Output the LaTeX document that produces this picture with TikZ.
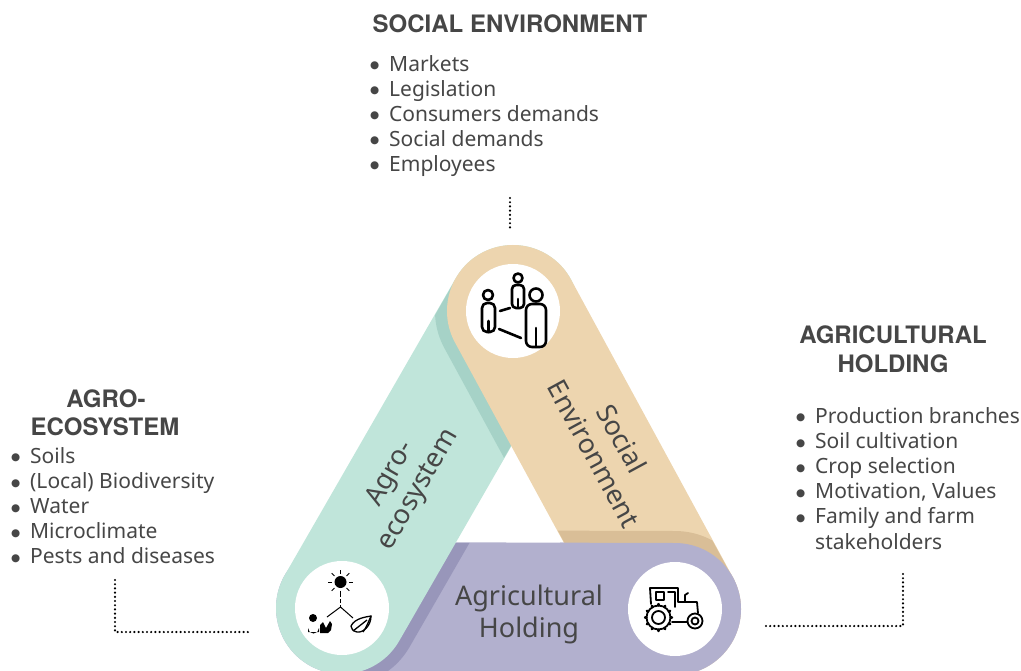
\documentclass[tikz,border=0pt]{standalone}
\usepackage{fontspec}
\setmainfont{Noto Sans}
\newfontfamily\titrefont{TeX Gyre Heros}
\newfontfamily\pucefont{DejaVu Sans}
\usepackage{tikz}
\usetikzlibrary{calc,positioning}
\definecolor{agro}{HTML}{C0E5DA}
\definecolor{agrodark}{HTML}{A6D2C7}
\definecolor{social}{HTML}{EDD5AF}
\definecolor{socialdark}{HTML}{D9BE97}
\definecolor{holding}{HTML}{B2B0CE}
\definecolor{holdingdark}{HTML}{9896BA}
\definecolor{txt}{HTML}{464646}
\newcommand{\puce}{\makebox[19pt][l]{\raisebox{2.2pt}{\pucefont\fontsize{10.5}{10.5}\selectfont ●}}}
\tikzstyle{band}=[line width=132pt, line cap=round]
\tikzstyle{ombre}=[line width=156pt, line cap=round]
\tikzstyle{titre}=[anchor=base, inner sep=0pt, text=txt, font=\titrefont\fontsize{24}{29}\selectfont\bfseries]
\tikzstyle{liste}=[anchor=base west, inner sep=0pt, text=txt, font=\fontsize{21}{25}\selectfont]
\tikzstyle{bandtext}=[align=center, text=txt, font=\fontsize{27}{32}\selectfont]
\tikzstyle{pointille}=[line width=2.4pt, line cap=round, dash pattern=on 0pt off 4.2pt]
\tikzstyle{icone}=[line width=2.6pt, line cap=round, line join=round]
\tikzstyle{rond}=[circle, fill=white, minimum size=94pt, inner sep=0pt]

\begin{document}
\begin{tikzpicture}[x=1pt, y=-1pt]
\useasboundingbox (0,0) rectangle (1021,670);

\coordinate (A) at (513,311);
\coordinate (B) at (342,608);
\coordinate (C) at (675,609);

% holding
\draw[band, holding] (B) -- (C);
\begin{scope}
\clip ($(B)!65.5pt!90:(C)$) -- ($(B)!65.5pt!-90:(C)$) -- ($(C)!65.5pt!90:(B)$) -- ($(C)!65.5pt!-90:(B)$) -- cycle;
\draw[ombre, holdingdark] (B) -- (A);
\end{scope}

% agro-ecosystem
\draw[band, agro] (B) -- (A);
\begin{scope}
\clip ($(B)!65.5pt!90:(A)$) -- ($(B)!65.5pt!-90:(A)$) -- ($(A)!65.5pt!90:(B)$) -- ($(A)!65.5pt!-90:(B)$) -- cycle;
\draw[ombre, agrodark] (A) -- (C);
\end{scope}

% social environment
\draw[band, social] (A) -- (C);
\begin{scope}
\clip ($(A)!65.5pt!90:(C)$) -- ($(A)!65.5pt!-90:(C)$) -- ($(C)!65.5pt!90:(A)$) -- ($(C)!65.5pt!-90:(A)$) -- cycle;
\draw[ombre, socialdark] (B) -- (C);
\end{scope}

% holding over social
\begin{scope}
\clip (560,470) rectangle (1021,680);
\draw[band, holding] (B) -- (C);
\end{scope}

% texte des bandes
\node[bandtext, rotate=60] (agrotext) at (405,482) {Agro-\\ecosystem};
\node[bandtext, rotate=-61.5] (socialtext) at (608,446) {Social\\Environment};
\node[bandtext] (holdingtext) at (529,614) {Agricultural\\Holding};

% icones
\node[rond] (socialicon) at (A) {};
\node[rond] (agroicon) at (B) {};
\node[rond] (holdingicon) at (C) {};

% personnes
\begin{scope}[shift={(A)}, icone]
\draw (-25,-16) circle (5);
\draw[rounded corners=5pt] (-31,-8) rectangle (-18,21);
\draw (-24.5,10) -- (-24.5,21);
\draw (5,-33) circle (4.5);
\draw[rounded corners=4pt] (-1,-26) rectangle (11,-3);
\draw (5,-12) -- (5,-3);
\draw (23,-16) circle (6.5);
\draw[rounded corners=6pt] (13,-7) rectangle (33,36);
\draw (23,17) -- (23,36);
\draw (-13,0) -- (-3,-3);
\draw (-14,18) -- (8,27);
\end{scope}

% soleil, plante
\begin{scope}[shift={(B)}]
\fill (-1.5,-26) circle (6);
\foreach \a in {0,45,...,315}
  \draw[line width=1pt] ($(-1.5,-26)+(\a:8.5)$) -- ($(-1.5,-26)+(\a:12.5)$);
\draw[line width=1pt, dash pattern=on 4pt off 2pt] (-1.5,-15) -- (-1.5,-1);
\draw[line width=1pt] (-15,9) -- (-1.5,-1) -- (11,10);
\fill (-29,10) circle (4);
\fill (-34,24) -- (-34,20) arc (180:0:5.5) -- (-23,24) -- cycle;
\fill (-22,25) -- (-22,17) -- (-19,14) -- (-16,20) -- (-12,13) -- (-10,16) -- (-11,22) -- (-14,25) -- cycle;
\draw[line width=1.3pt] (9,18) .. controls (13,10) and (24,9) .. (29,8) .. controls (29,18) and (21,25) .. (15,24) .. controls (11,23) and (9,21) .. (9,18);
\draw[line width=1.3pt] (11,23) -- (25,12);
\draw[line width=1.3pt] (21,24) .. controls (24,20) and (26,15) .. (29,8);
\end{scope}

% tracteur
\begin{scope}[shift={(C)}, icone, line width=1.8pt]
\draw (-24,-5) -- (-25,-21) -- (3,-21) -- (3,-7) -- (22,-7) -- (23,4);
\draw (-19,-17) rectangle (-11,-9);
\draw (-7,-17) -- (0,-17) -- (0,-2);
\draw (10,-7) -- (10,-14) -- (13,-16);
\draw (-3,13) -- (12,13);
\draw (-16.5,8.5) circle (12);
\foreach \a in {0,30,...,330}
  \draw[line width=2.4pt] ($(-16.5,8.5)+(\a:12)$) -- ($(-16.5,8.5)+(\a:13.5)$);
\draw (-16.5,8.5) circle (6.5);
\draw (20,12) circle (7.5);
\draw (20,12) circle (3.5);
\end{scope}

% social environment
\node[titre] (socialtitle) at (510,32) {SOCIAL ENVIRONMENT};
\foreach \t [count=\i from 0] in {Markets, Legislation, Consumers demands, Social demands, Employees}
  \node[liste] (social-\i) at (370,71+25*\i) {\puce\t};
\coordinate (socialdot1) at (510,198);
\coordinate (socialdot2) at (510,231);
\draw[pointille] (socialdot1) -- (socialdot2);

% agro-ecosystem
\node[titre] (agrotitle1) at (106,407) {AGRO-};
\node[titre] (agrotitle2) at (105,435) {ECOSYSTEM};
\foreach \t [count=\i from 0] in {Soils, (Local) Biodiversity, Water, Microclimate, Pests and diseases}
  \node[liste] (agro-\i) at (11,463+25.2*\i) {\puce\t};
\coordinate (agrodot1) at (115,580);
\coordinate (agrodot2) at (115,632);
\coordinate (agrodot3) at (250,632);
\draw[pointille] (agrodot1) -- (agrodot2) -- (agrodot3);

% agricultural holding
\node[titre] (holdingtitle1) at (893,343) {AGRICULTURAL};
\node[titre] (holdingtitle2) at (893,372) {HOLDING};
\foreach \t [count=\i from 0] in {Production branches, Soil cultivation, Crop selection, {Motivation, Values}, Family and farm}
  \node[liste] (holding-\i) at (796,423+25.2*\i) {\puce\t};
\node[liste] (holding-5) at (815,549) {stakeholders};
\coordinate (holdingdot1) at (903,574);
\coordinate (holdingdot2) at (903,626);
\coordinate (holdingdot3) at (763,626);
\draw[pointille] (holdingdot1) -- (holdingdot2) -- (holdingdot3);

\end{tikzpicture}
\end{document}
